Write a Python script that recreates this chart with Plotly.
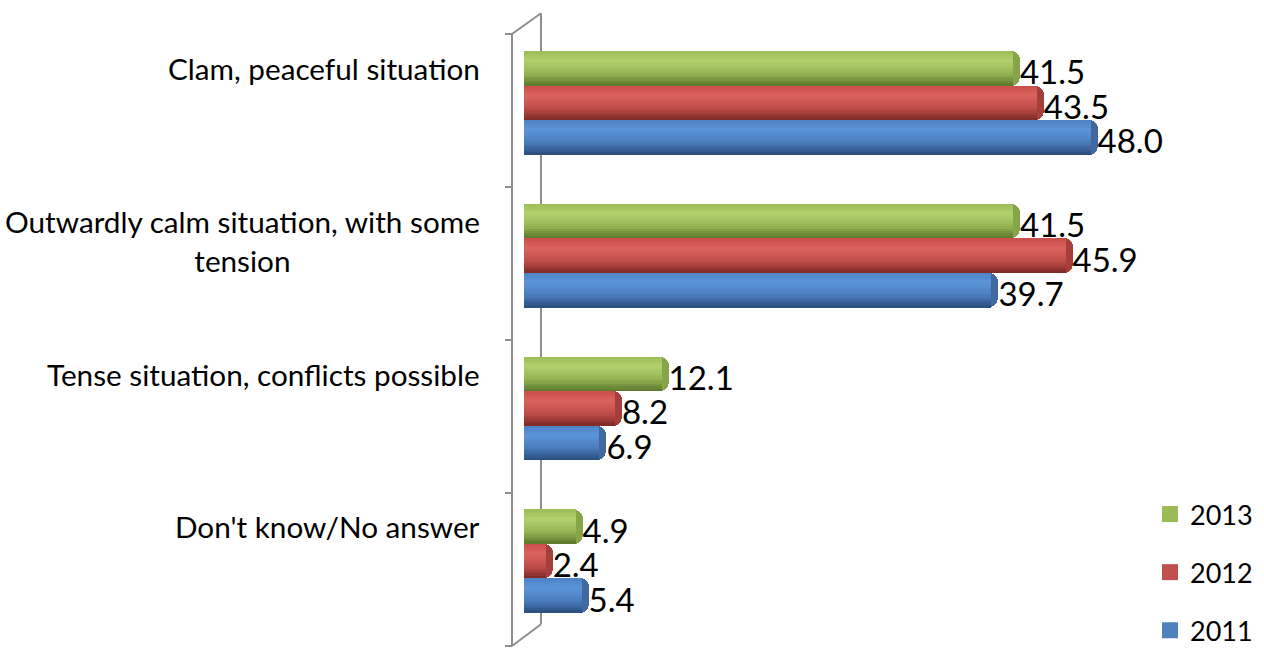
import plotly.graph_objects as go

# ---------------- data ----------------
categories = [
    "Clam, peaceful situation",
    "Outwardly calm situation, with some<br>tension",
    "Tense situation, conflicts possible",
    "Don't know/No answer",
]
years = ["2013", "2012", "2011"]
v2013 = [41.5, 41.5, 12.1, 4.9]
v2012 = [43.5, 45.9, 8.2, 2.4]
v2011 = [48.0, 39.7, 6.9, 5.4]
series_values = {"2013": v2013, "2012": v2012, "2011": v2011}

# ---------------- styles ----------------
legend_colors = {"2013": "#9bbb59", "2012": "#c0504d", "2011": "#4f81bd"}
cap_colors = {"2013": "#86a548", "2012": "#a63f3c", "2011": "#41699f"}
shade_stops = {
    "2013": [(0.0, "#9abb58"), (0.28, "#b1d26d"), (0.65, "#95b553"), (1.0, "#5a762a")],
    "2012": [(0.0, "#c84f4b"), (0.28, "#dc625d"), (0.65, "#c04d49"), (1.0, "#7c2826")],
    "2011": [(0.0, "#4d82c5"), (0.28, "#5c95da"), (0.65, "#4a7cbd"), (1.0, "#2a4c7c")],
}
FONT = "Lato"

W, H = 1264, 655
PL, PR, PT, PB = 512, 1150, 34, 655      # plot area in pixels
X0PX, XSCALE = 524, 11.95               # pixel of value 0, pixels per unit
CAT_PX, CAT_TOP = 155.0, 104.0          # category spacing, centre of first group
THICK = 35.0 / CAT_PX                   # bar thickness in y units


def hex2rgb(h):
    h = h.lstrip("#")
    return tuple(int(h[i:i + 2], 16) for i in (0, 2, 4))


def interp(stops, t):
    for (t0, c0), (t1, c1) in zip(stops[:-1], stops[1:]):
        if t0 <= t <= t1:
            f = (t - t0) / (t1 - t0) if t1 > t0 else 0
            a, b = hex2rgb(c0), hex2rgb(c1)
            return "rgb(%d,%d,%d)" % tuple(round(a[i] + (b[i] - a[i]) * f) for i in range(3))
    return stops[-1][1]


fig = go.Figure()
N = 14
cap_units = 7.0 / XSCALE
n_cat = len(categories)

for si, yr in enumerate(years):
    vals = series_values[yr]
    centres = [k + (si - 1) * THICK for k in range(n_cat)]
    # end cap (rounded, darker)
    fig.add_trace(go.Bar(
        x=vals, y=centres, orientation="h", width=THICK,
        marker=dict(color=cap_colors[yr], line=dict(width=0), cornerradius=9),
        showlegend=False, hoverinfo="skip"))
    # cylinder body shading stripes
    for j in range(N):
        t = (j + 0.5) / N
        ys = [c - THICK / 2 + t * THICK for c in centres]
        fig.add_trace(go.Bar(
            x=[v - cap_units for v in vals], y=ys, orientation="h",
            width=THICK / N * 1.08,
            marker=dict(color=interp(shade_stops[yr], t), line=dict(width=0)),
            showlegend=False, hoverinfo="skip"))
    # value labels
    fig.add_trace(go.Scatter(
        x=vals, y=[c + 0.05 for c in centres], mode="text",
        text=["%.1f" % v for v in vals], textposition="middle right",
        textfont=dict(family=FONT, size=33, color="black"), cliponaxis=False,
        showlegend=False, hoverinfo="skip"))
    # legend entry
    fig.add_trace(go.Scatter(
        x=[None], y=[None], mode="markers", name=yr,
        marker=dict(color=legend_colors[yr], symbol="square", size=16),
        legendrank=si + 1, legendgroup=yr))

# ---------------- axes geometry ----------------
pw, ph = PR - PL, PB - PT
xr = [(PL - X0PX) / XSCALE, (PR - X0PX) / XSCALE]
yr_top = (PT - CAT_TOP) / CAT_PX
yr_bot = (PB - CAT_TOP) / CAT_PX


def px2paper(px, py):
    return (px - PL) / pw, 1 - (py - PT) / ph


line = dict(color="#8e8e8e", width=2)
shapes = []
bx, by_top = px2paper(541, 13)
_, by_bot = px2paper(541, 633)
shapes.append(dict(type="line", xref="paper", yref="paper", x0=0, x1=0, y0=0, y1=1, line=line, layer="below"))
shapes.append(dict(type="line", xref="paper", yref="paper", x0=0, x1=bx, y0=1, y1=by_top, line=line, layer="below"))
shapes.append(dict(type="line", xref="paper", yref="paper", x0=bx, x1=bx, y0=by_top, y1=by_bot, line=line, layer="below"))
shapes.append(dict(type="line", xref="paper", yref="paper", x0=bx, x1=0, y0=by_bot, y1=0, line=line, layer="below"))
for i in range(n_cat + 1):
    shapes.append(dict(type="line", xref="paper", yref="paper", x0=-7 / pw, x1=0,
                       y0=i / n_cat, y1=i / n_cat, line=line, layer="below"))

annotations = []
lab_x, _ = px2paper(482, 0)
for k, cat in enumerate(categories):
    nl = cat.count("<br>") + 1
    annotations.append(dict(
        text=cat, xref="paper", yref="y", x=lab_x, y=k - THICK,
        xanchor="right", yanchor="middle", align="center", showarrow=False,
        yshift=-(nl - 1) * 20, font=dict(family=FONT, size=29.7, color="black")))

fig.update_layout(
    width=W, height=H, barmode="overlay", bargap=0,
    margin=dict(l=PL, r=W - PR, t=PT, b=H - PB, pad=0),
    paper_bgcolor="white", plot_bgcolor="rgba(0,0,0,0)",
    xaxis=dict(range=xr, visible=False, fixedrange=True),
    yaxis=dict(range=[yr_bot, yr_top], visible=False, fixedrange=True),
    shapes=shapes, annotations=annotations,
    legend=dict(x=1.0, xanchor="left", y=px2paper(0, 497)[1], yanchor="top",
                font=dict(family=FONT, size=27, color="black"),
                tracegroupgap=20, bgcolor="rgba(0,0,0,0)"),
    showlegend=True,
)

fig.write_html("out.html")
